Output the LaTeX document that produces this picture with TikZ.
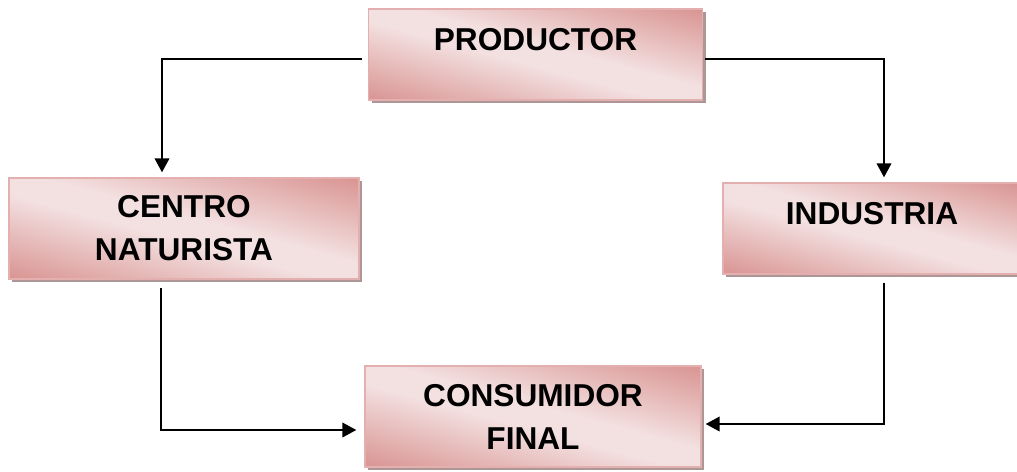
\documentclass[tikz,border=0pt]{standalone}
\usepackage{fontspec}
\setmainfont{Liberation Sans}
\usetikzlibrary{arrows.meta,shadows}
\definecolor{rosadark}{RGB}{217,150,148}
\definecolor{rosalight}{RGB}{243,224,224}
\definecolor{rosaline}{RGB}{228,176,175}
\definecolor{sombra}{RGB}{172,150,150}
\pgfdeclarehorizontalshading{rosashade}{100bp}{
  color(0bp)=(rosadark); color(20bp)=(rosadark); color(46bp)=(rosalight);
  color(54bp)=(rosalight); color(80bp)=(rosadark); color(100bp)=(rosadark)}
\tikzset{
  caja/.style={draw=rosaline, line width=1.2pt, shading=rosashade, shading angle=75,
    general shadow={fill=sombra, shadow xshift=0.09cm, shadow yshift=-0.09cm},
    font=\fontsize{27}{36.7}\selectfont\bfseries, align=center, inner sep=0pt},
  una/.style={text height=0.69cm, text depth=0.96cm},
  flecha/.style={line width=1.6pt, -{Triangle[length=0.42cm,width=0.44cm]}}
}
\begin{document}
\begin{tikzpicture}
\useasboundingbox (0,0) rectangle (30.51,14.13);
% cajas
\node[caja, una, minimum width=10.02cm, minimum height=2.73cm] (prod) at (16.065,12.495) {PRODUCTOR};
\node[caja, minimum width=10.5cm, minimum height=3.03cm] (centro) at (5.52,7.275) {CENTRO\\NATURISTA};
\node[caja, una, minimum width=8.94cm, minimum height=2.73cm] (ind) at (26.16,7.275) {INDUSTRIA};
\node[caja, minimum width=10.08cm, minimum height=3.03cm] (cons) at (15.99,1.635) {CONSUMIDOR\\FINAL};
% flechas
\draw[flecha, shorten <=0.18cm, shorten >=0.15cm] ([yshift=-0.135cm]prod.west) -| ([xshift=-0.66cm]centro.north);
\draw[flecha, shorten <=0.06cm, shorten >=0.15cm] ([yshift=-0.135cm]prod.east) -| ([xshift=0.36cm]ind.north);
\draw[flecha, shorten <=0.24cm, shorten >=0.24cm] ([xshift=-0.69cm]centro.south) |- ([yshift=-0.405cm]cons.west);
\draw[flecha, shorten <=0.24cm, shorten >=0.12cm] ([xshift=0.36cm]ind.south) |- ([yshift=-0.225cm]cons.east);
\end{tikzpicture}
\end{document}
